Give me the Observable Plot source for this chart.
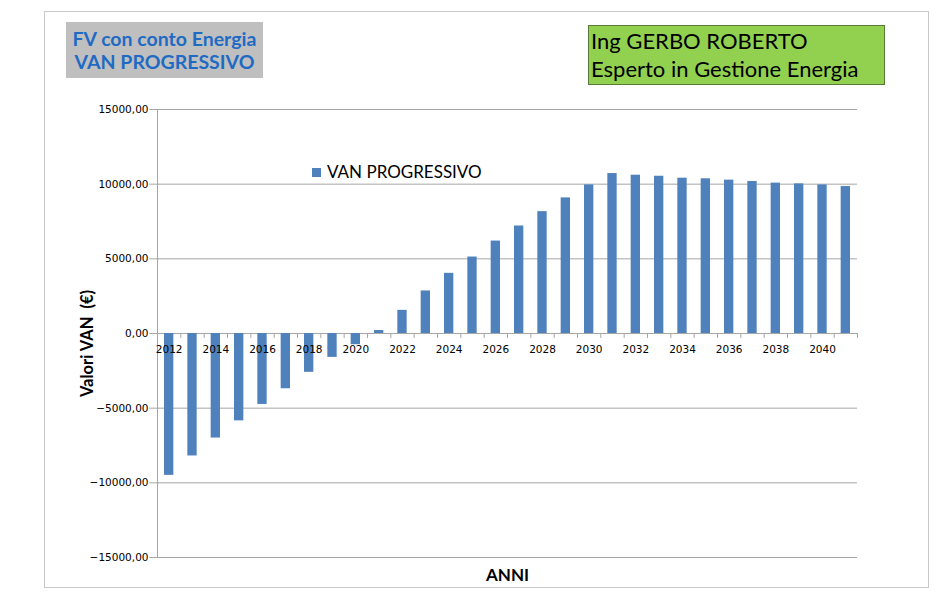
<!DOCTYPE html>
<html>
<head>
<meta charset="utf-8">
<script src="https://cdn.jsdelivr.net/npm/d3@7"></script>
<script src="https://cdn.jsdelivr.net/npm/@observablehq/plot@0.6"></script>
<style>
  html, body { margin: 0; padding: 0; background: #fff; }
  #page { position: relative; width: 942px; height: 599px; overflow: hidden; }
  #page svg { position: absolute; left: 0; top: 0; }
  .frame { position: absolute; left: 44px; top: 11px; width: 885px; height: 577px; border: 1px solid #c8c8c8; box-sizing: border-box; }
  .titlebox { position: absolute; left: 66px; top: 22px; width: 197px; height: 56px; background: #bfbfbf;
    color: #1f6bc4; font-family: Lato, sans-serif; font-weight: bold; font-size: 19.5px; line-height: 23px;
    text-align: center; padding-top: 5px; box-sizing: border-box; white-space: nowrap; }
  .authorbox { position: absolute; left: 588px; top: 25px; width: 297px; height: 60px; background: #92d050;
    border: 1px solid #5a7a3a; box-sizing: border-box; color: #000; font-family: Lato, sans-serif;
    font-size: 22px; line-height: 28px; padding: 1px 0 0 2px; white-space: nowrap; }
  .legend { position: absolute; left: 312px; top: 161px; font-family: Lato, sans-serif; font-size: 17px; color: #000; white-space: nowrap; }
  .legend span.sw { display: inline-block; width: 9px; height: 9px; background: #4f81bd; margin-right: 6px; vertical-align: 1px; }
</style>
</head>
<body>
<div id="page">
  <div class="frame"></div>
  <div class="titlebox">FV con conto Energia<br>VAN PROGRESSIVO</div>
  <div class="authorbox">Ing GERBO ROBERTO<br>Esperto in Gestione Energia</div>
  <div class="legend"><span class="sw"></span>VAN PROGRESSIVO</div>
</div>
<script>
const years = d3.range(2012, 2042);
const values = [
  -9500, -8200, -7000, -5850, -4750, -3700, -2600, -1600, -750, 200,
  1550, 2850, 4030, 5120, 6190, 7200, 8160, 9080, 9950, 10710,
  10600, 10530, 10400, 10360, 10270, 10180, 10070, 10020, 9950, 9840
];
const yTicks = [-15000, -10000, -5000, 0, 5000, 10000, 15000];
const labelYears = years.filter(y => y % 2 === 0);
const data = years.map((y, i) => ({year: y, value: values[i]}));

const W = 942, H = 599;
const mL = 157, mR = 85, mT = 109, mB = 42;
const step = (W - mL - mR) / years.length;
const fmt = v => d3.format(".2f")(v).replace(".", ",");

const chart = Plot.plot({
  width: W, height: H,
  marginLeft: mL, marginRight: mR, marginTop: mT, marginBottom: mB,
  style: {fontFamily: "DejaVu Sans, sans-serif", fontSize: "10.5px", color: "#000", background: "transparent"},
  x: {domain: years, paddingInner: 0.6, paddingOuter: 0.3, round: false, axis: null},
  y: {domain: [-15000, 15000], axis: null},
  marks: [
    Plot.ruleY(yTicks, {stroke: "#a6a6a6", strokeWidth: 1}),
    Plot.barY(data, {x: "year", y: "value", fill: "#4f81bd"}),
    Plot.ruleX([years[0]], {x: d => d, y1: -15000, y2: 15000, dx: -step / 2, stroke: "#a6a6a6"}),
    Plot.tickY(yTicks, {y: d => d, x: years[0], dx: -step / 2 - 3, stroke: "#a6a6a6"}),
    Plot.ruleX(years, {x: d => d, y1: 0, y2: -330, dx: -step / 2, stroke: "#a6a6a6"}),
    Plot.ruleX([years[years.length - 1]], {x: d => d, y1: 0, y2: -330, dx: step / 2, stroke: "#a6a6a6"}),
    Plot.text(yTicks, {x: years[0], y: d => d, text: fmt, textAnchor: "end", dx: -step / 2 - 9, fill: "#000"}),
    Plot.text(labelYears, {x: d => d, y: 0, text: d => String(d), dy: 16, textAnchor: "middle", fill: "#000"}),
    Plot.text(["ANNI"], {frameAnchor: "bottom", dy: 23, text: d => d, fontFamily: "Lato, sans-serif", fontWeight: "bold", fontSize: 17, fill: "#000"}),
    Plot.text(["Valori VAN  (€)"], {frameAnchor: "left", textAnchor: "middle", dx: -70, dy: 10, rotate: -90, text: d => d, fontFamily: "Lato, sans-serif", fontWeight: "bold", fontSize: 16.5, fill: "#000"})
  ]
});
document.getElementById("page").appendChild(chart);
</script>
</body>
</html>
